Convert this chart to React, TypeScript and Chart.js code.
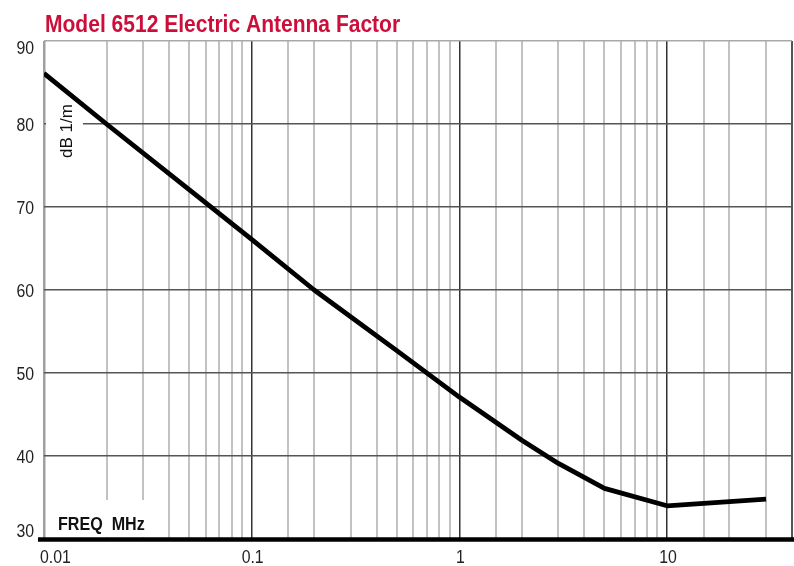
import React, { useEffect, useRef } from "react";
import { Chart, registerables } from "chart.js";

Chart.register(...registerables);

const titleText = "Model 6512 Electric Antenna Factor";
const yAxisLabel = "dB 1/m";
const xAxisLabel = "FREQ  MHz";
const freqMHz = [0.01, 0.02, 0.05, 0.1, 0.2, 0.5, 1, 2, 3, 5, 10, 20, 30];
const antennaFactorDb = [86.1, 80, 72.1, 66.1, 60, 52.7, 47.1, 41.9, 39.1, 36.1, 34.0, 34.5, 34.8];
const xTickLabels = [0.01, 0.1, 1, 10];
const yTickLabels = [30, 40, 50, 60, 70, 80, 90];
const xMin = 0.01;
const xMax = 40;
const yMin = 30;
const yMax = 90;

const FONT = '"Liberation Sans", Arial, Helvetica, sans-serif';

const isDecade = (v: number) => {
  const l = Math.log10(v);
  return Math.abs(l - Math.round(l)) < 1e-6;
};

function drawText(ctx: any, text: string, x: number, y: number, align: string, sx: number) {
  ctx.save();
  ctx.translate(x, y);
  ctx.scale(sx, 1);
  ctx.textAlign = align;
  ctx.fillText(text, 0, 0);
  ctx.restore();
}

const decorPlugin = {
  id: "decor",
  beforeDatasetsDraw(chart: any) {
    const ctx = chart.ctx;
    const ys = chart.scales.y;
    const left = chart.chartArea.left;
    const bottom = chart.chartArea.bottom;
    ctx.save();
    ctx.fillStyle = "#ffffff";
    const y80 = ys.getPixelForValue(80);
    ctx.fillRect(left + 2, y80 - 3, 37, 6);
    ctx.fillRect(left + 4, bottom - 39, 104, 37);
    ctx.restore();
  },
  afterDraw(chart: any) {
    const ctx = chart.ctx;
    const xs = chart.scales.x;
    const ys = chart.scales.y;
    const { left, bottom, top } = chart.chartArea;
    ctx.save();
    ctx.strokeStyle = "#000000";
    ctx.lineWidth = 4.5;
    ctx.beginPath();
    ctx.moveTo(left - 6, bottom + 0.5);
    ctx.lineTo(chart.width, bottom + 0.5);
    ctx.stroke();

    // y tick labels
    ctx.fillStyle = "#222222";
    ctx.font = `18px ${FONT}`;
    ctx.textBaseline = "middle";
    yTickLabels.forEach((v) => {
      let py = ys.getPixelForValue(v) + 2;
      if (v === yMax) py += 6;
      if (v === yMin) py -= 9;
      drawText(ctx, String(v), left - 10, py, "right", 0.88);
    });

    // x tick labels
    xTickLabels.forEach((v, i) => {
      const px = xs.getPixelForValue(v);
      if (i === 0) {
        drawText(ctx, String(v), px - 4, bottom + 19, "left", 0.88);
      } else {
        drawText(ctx, String(v), px + 1, bottom + 19, "center", 0.88);
      }
    });

    // x axis label
    ctx.font = `bold 18.5px ${FONT}`;
    ctx.textBaseline = "alphabetic";
    ctx.fillStyle = "#111111";
    drawText(ctx, xAxisLabel, left + 14, bottom - 9, "left", 0.87);

    // y axis label (rotated)
    ctx.font = `17px ${FONT}`;
    ctx.save();
    ctx.translate(left + 23, ys.getPixelForValue(80) + 7);
    ctx.rotate(-Math.PI / 2);
    ctx.textAlign = "center";
    ctx.textBaseline = "middle";
    ctx.fillText(yAxisLabel, 0, 0);
    ctx.restore();

    // title
    ctx.font = `bold 23px ${FONT}`;
    ctx.fillStyle = "#cc0f3a";
    ctx.textBaseline = "alphabetic";
    drawText(ctx, titleText, left + 1, top - 9, "left", 0.914);
    ctx.restore();
  },
};

export default function App() {
  const canvasRef = useRef<HTMLCanvasElement | null>(null);

  useEffect(() => {
    if (!canvasRef.current) return;
    const chart = new Chart(canvasRef.current, {
      type: "line",
      data: {
        datasets: [
          {
            data: freqMHz.map((f, i) => ({ x: f, y: antennaFactorDb[i] })),
            borderColor: "#000000",
            borderWidth: 4.8,
            pointRadius: 0,
            tension: 0,
            borderJoinStyle: "round",
            borderCapStyle: "butt",
            fill: false,
          },
        ],
      },
      options: {
        responsive: false,
        animation: false,
        layout: { padding: { left: 44, right: 2, top: 41, bottom: 27 } },
        plugins: {
          legend: { display: false },
          title: { display: false },
          tooltip: { enabled: false },
        },
        scales: {
          x: {
            type: "logarithmic",
            min: xMin,
            max: xMax,
            border: { display: false },
            ticks: { display: false },
            grid: {
              drawTicks: false,
              color: (c: any) => {
                const v = c.tick?.value;
                if (v === undefined) return "#bbbbbb";
                if (Math.abs(v - xMin) < 1e-9) return "#a0a0a0";
                if (Math.abs(v - xMax) < 1e-9) return "#555555";
                return isDecade(v) ? "#333333" : "#c2c2c2";
              },
              lineWidth: (c: any) => {
                const v = c.tick?.value;
                if (v === undefined) return 2;
                if (Math.abs(v - xMin) < 1e-9) return 2.5;
                return isDecade(v) ? 1.5 : 2;
              },
            },
          },
          y: {
            type: "linear",
            min: yMin,
            max: yMax,
            border: { display: false },
            ticks: { display: false, stepSize: 10 },
            grid: {
              drawTicks: false,
              color: (c: any) => {
                const v = c.tick?.value;
                if (v === yMax) return "#a8a8a8";
                return "#555555";
              },
              lineWidth: 1.5,
            },
          },
        },
      },
      plugins: [decorPlugin],
    } as any);
    return () => chart.destroy();
  }, []);

  return (
    <div style={{ position: "absolute", left: 0, top: 0, width: 794, height: 566, background: "#fff" }}>
      <canvas ref={canvasRef} width={794} height={566} style={{ display: "block" }} />
    </div>
  );
}
